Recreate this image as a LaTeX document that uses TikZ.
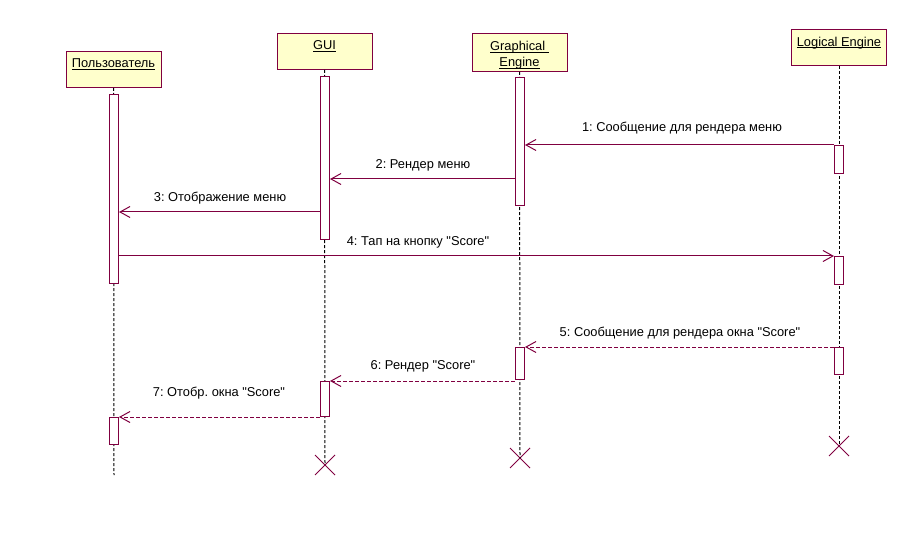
\documentclass[tikz,border=0pt]{standalone}
\usepackage{fontspec}
\setmainfont{Liberation Sans}[Ligatures=TeXOff]
\usetikzlibrary{arrows.meta,shapes.misc}
\definecolor{uml}{RGB}{128,0,64}
\definecolor{hdrfill}{RGB}{255,255,204}
\newcommand\ulbox[1]{\setbox0\hbox{#1}\rlap{\rule[-2.2bp]{\wd0}{0.9bp}}\box0}
\frenchspacing
\begin{document}
\begin{tikzpicture}[x=1bp,y=-1bp,font=\fontsize{12.9}{16}\selectfont\frenchspacing,
  hdr/.style={draw=uml,fill=hdrfill,line width=1bp,minimum width=95bp,minimum height=36bp,inner sep=0,anchor=north},
  hlbl/.style={anchor=north,inner sep=0,align=center,yshift=-7.5bp},
  life/.style={draw=black,line width=1bp,dash pattern=on 3bp off 2bp},
  act/.style={draw=uml,fill=white,line width=1bp,minimum width=9bp,inner sep=0,anchor=north},
  msg/.style={draw=uml,line width=1bp,-{Straight Barb[length=10bp,width=11bp,line width=1bp]}},
  reply/.style={msg,dash pattern=on 4bp off 2bp},
  mlbl/.style={anchor=base,inner sep=0},
  xend/.style={cross out,draw=uml,line width=1bp,minimum size=19bp,inner sep=0}]
\useasboundingbox (0,0) rectangle (919,536);
% headers
\node[hdr,label={[hlbl]north:\ulbox{Пользователь}}] (u) at (113.5,51) {};
\node[hdr,label={[hlbl]north:\ulbox{GUI}}] (g) at (324.5,33) {};
\node[hdr,minimum height=38bp,label={[hlbl,yshift=-0.5bp]north:\ulbox{Graphical\ }\\\ulbox{Engine}}] (e) at (519.5,33) {};
\node[hdr,label={[hlbl]north:\ulbox{Logical Engine}}] (l) at (839,29) {};
% ends
\coordinate (uend) at (114,475);
\node[xend] (gx) at (325,465) {};
\node[xend] (ex) at (520,458) {};
\node[xend] (lx) at (839,446) {};
% lifelines
\draw[life] (u.south) -- (uend);
\draw[life] (g.south) -- (gx.center);
\draw[life] (e.south) -- (ex.center);
\draw[life] (l.south) -- (lx.center);
% activations
\node[act,minimum height=189bp] (u1) at (114,94) {};
\node[act,minimum height=27bp] (u2) at (114,417) {};
\node[act,minimum height=163bp] (g1) at (325,76) {};
\node[act,minimum height=35bp] (g2) at (325,381) {};
\node[act,minimum height=128bp] (e1) at (520,77) {};
\node[act,minimum height=32bp] (e2) at (520,347) {};
\node[act,minimum height=28bp] (l1) at (839,145) {};
\node[act,minimum height=28bp] (l2) at (839,256) {};
\node[act,minimum height=27bp] (l3) at (839,347) {};
% message rows
\coordinate (y2) at (0,179);
\coordinate (y3) at (0,212);
% messages
\draw[msg] (l1.north west) -- (e1.east |- l1.north west);
\draw[msg] (e1.west |- y2) -- (g1.east |- y2);
\draw[msg] (g1.west |- y3) -- (u1.east |- y3);
\draw[msg] (u1.east |- l2.north) -- (l2.north west);
\draw[reply] (l3.north west) -- (e2.north east);
\draw[reply] (e2.west |- g2.north) -- (g2.north east);
\draw[reply] (g2.west |- u2.north) -- (u2.north east);
% labels
\node[mlbl] (t1) at (682,132) {1: Сообщение для рендера меню};
\node[mlbl] (t2) at (423,168.5) {2: Рендер меню};
\node[mlbl] (t3) at (220,201.5) {3: Отображение меню};
\node[mlbl] (t4) at (418,246) {4: Тап на кнопку "Score"};
\node[mlbl] (t5) at (680,336.5) {5: Сообщение для рендера окна "Score"};
\node[mlbl] (t6) at (423,369) {6: Рендер "Score"};
\node[mlbl] (t7) at (219,396.5) {7: Отобр. окна "Score"};
\end{tikzpicture}
\end{document}
